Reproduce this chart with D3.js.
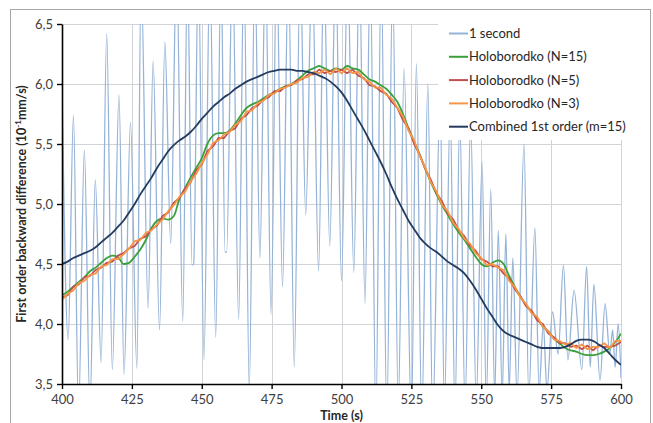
<!DOCTYPE html>
<html>
<head>
<meta charset="utf-8">
<script src="https://cdn.jsdelivr.net/npm/d3@7"></script>
<style>
  html, body { margin: 0; padding: 0; background: #fff; overflow: hidden; }
  svg { display: block; font-family: Lato, "Open Sans", sans-serif; }
</style>
</head>
<body>
<svg id="chart" width="653" height="423"></svg>
<script>
// ---------- DATA ----------
const seriesNames = ["1 second", "Holoborodko (N=15)", "Holoborodko (N=5)", "Holoborodko (N=3)", "Combined 1st order (m=15)"];
const xTicks = [400, 425, 450, 475, 500, 525, 550, 575, 600];
const yTicks = [3.5, 4.0, 4.5, 5.0, 5.5, 6.0, 6.5];
const yTickLabels = ["3,5", "4,0", "4,5", "5,0", "5,5", "6,0", "6,5"];

// 1-second backward difference: turning points (time, value)
const secT = [400, 402.2, 404.1, 405.9, 408.0, 410.0, 411.9, 414.0, 416.0, 418.0, 420.4, 422.2, 424.5, 426.8, 428.3, 430.8,
  432.6, 434.9, 436.8, 438.9, 441.0, 443.2, 444.9, 446.5, 447.1, 448.8, 450.8, 452.9, 455.0, 456.9, 458.3, 458.9, 461.0, 463.2,
  465.1, 467.0, 469.0, 470.8, 472.8, 474.8, 476.8, 478.9, 481.0, 483.1, 485.2, 487.2, 489.5, 491.8, 493.7, 495.8, 497.9, 500.0,
  502.2, 504.4, 506.4, 508.4, 510.3, 512.3, 514.2, 516.2, 518.3, 520.3, 522.4, 525.0, 526.8, 528.7, 530.9, 532.6, 535.3, 536.8,
  538.9, 540.6, 542.3, 544.2, 546.2, 548.2, 550.3, 551.8, 553.4, 554.8, 556.1, 557.5, 558.8, 560.0, 561.3, 562.8, 565.3, 567.0,
  569.2, 570.7, 572.2, 573.5, 575.5, 577.5, 579.4, 581.0, 583.2, 586.0, 587.7, 589.0, 590.3, 592.5, 594.3, 596.0, 597.0, 597.9,
  599.0, 600];
const secV = [6.00, 3.87, 5.74, 3.25, 5.45, 3.30, 5.20, 3.68, 6.42, 3.62, 5.91, 3.58, 5.68, 3.63, 6.90, 4.13,
  6.19, 3.95, 6.35, 4.67, 7.00, 4.02, 7.00, 4.49, 4.50, 7.00, 3.70, 7.00, 3.89, 7.00, 4.60, 4.60, 7.00, 4.04,
  7.00, 3.45, 7.00, 4.55, 7.00, 4.08, 7.00, 4.31, 7.00, 3.64, 7.00, 4.91, 7.00, 4.44, 7.00, 4.65, 7.00, 4.36,
  7.00, 4.43, 7.00, 4.17, 7.00, 3.20, 7.00, 3.20, 6.90, 3.30, 6.13, 3.20, 6.17, 3.20, 6.00, 3.20, 5.90, 3.30,
  5.80, 3.25, 5.75, 3.30, 5.70, 3.35, 5.35, 3.35, 5.12, 3.40, 4.78, 3.40, 4.75, 3.45, 4.55, 3.40, 5.50, 3.40,
  4.80, 3.45, 4.00, 3.45, 4.10, 3.75, 4.49, 3.70, 4.28, 3.62, 4.48, 3.64, 4.33, 3.53, 4.17, 3.75, 3.95, 3.64,
  4.00, 3.55];

// smoothed series sampled every 2 s (400 .. 600)
const times = d3.range(400, 601, 2);
const holo15 = [4.24, 4.27, 4.31, 4.35, 4.39, 4.44, 4.47, 4.51, 4.55, 4.57, 4.56, 4.50, 4.51, 4.56, 4.62, 4.70,
  4.80, 4.86, 4.88, 4.87, 4.90, 5.04, 5.13, 5.22, 5.30, 5.38, 5.50, 5.57, 5.59, 5.59, 5.61, 5.67, 5.74, 5.80,
  5.83, 5.85, 5.88, 5.91, 5.93, 5.96, 5.98, 6.00, 6.03, 6.07, 6.11, 6.13, 6.15, 6.13, 6.11, 6.13, 6.12, 6.15,
  6.13, 6.12, 6.08, 6.04, 6.02, 5.99, 5.96, 5.91, 5.85, 5.75, 5.63, 5.52, 5.41, 5.29, 5.18, 5.08, 4.99, 4.91,
  4.83, 4.76, 4.70, 4.63, 4.56, 4.50, 4.48, 4.51, 4.53, 4.50, 4.40, 4.31, 4.23, 4.16, 4.10, 4.05, 3.98, 3.94,
  3.88, 3.84, 3.80, 3.78, 3.77, 3.75, 3.74, 3.74, 3.75, 3.77, 3.80, 3.85, 3.92];
const holo5 = [4.22, 4.24, 4.31, 4.33, 4.39, 4.40, 4.45, 4.47, 4.51, 4.52,
  4.57, 4.59, 4.63, 4.65, 4.71, 4.73, 4.79, 4.82, 4.90, 4.93,
  5.01, 5.05, 5.13, 5.18, 5.28, 5.33, 5.44, 5.48, 5.55, 5.55,
  5.61, 5.63, 5.71, 5.74, 5.80, 5.82, 5.87, 5.89, 5.94, 5.94,
  5.98, 5.99, 6.03, 6.04, 6.08, 6.08, 6.12, 6.09, 6.11, 6.10,
  6.12, 6.09, 6.12, 6.07, 6.05, 5.99, 5.98, 5.94, 5.92, 5.85,
  5.80, 5.70, 5.63, 5.50, 5.41, 5.29, 5.20, 5.09, 5.02, 4.92,
  4.87, 4.78, 4.73, 4.65, 4.61, 4.54, 4.52, 4.48, 4.48, 4.42,
  4.38, 4.29, 4.23, 4.15, 4.11, 4.03, 4.00, 3.92, 3.89, 3.84,
  3.84, 3.81, 3.82, 3.79, 3.82, 3.78, 3.82, 3.81, 3.81, 3.82,
  3.85];
const holo3 = [4.20, 4.25, 4.28, 4.34, 4.36, 4.41, 4.42, 4.48, 4.49, 4.54,
  4.54, 4.58, 4.63, 4.69, 4.70, 4.76, 4.78, 4.83, 4.87, 4.94,
  4.99, 5.06, 5.10, 5.19, 5.25, 5.34, 5.41, 5.51, 5.53, 5.58,
  5.60, 5.66, 5.69, 5.77, 5.78, 5.84, 5.86, 5.91, 5.92, 5.96,
  5.97, 6.00, 6.01, 6.05, 6.06, 6.10, 6.09, 6.12, 6.08, 6.13,
  6.09, 6.13, 6.09, 6.10, 6.04, 6.02, 5.97, 5.97, 5.91, 5.88,
  5.80, 5.73, 5.61, 5.53, 5.40, 5.30, 5.18, 5.10, 4.99, 4.94,
  4.84, 4.79, 4.71, 4.67, 4.59, 4.55, 4.49, 4.50, 4.47, 4.45,
  4.36, 4.31, 4.22, 4.17, 4.09, 4.06, 3.98, 3.94, 3.87, 3.86,
  3.83, 3.84, 3.80, 3.83, 3.79, 3.81, 3.81, 3.84, 3.80, 3.86,
  3.86];
const combined = [4.50, 4.52, 4.55, 4.57, 4.59, 4.61, 4.64, 4.68, 4.72, 4.76, 4.81, 4.86, 4.93, 5.00, 5.08, 5.15,
  5.22, 5.30, 5.37, 5.44, 5.49, 5.53, 5.56, 5.60, 5.65, 5.71, 5.76, 5.81, 5.85, 5.89, 5.92, 5.96, 5.99, 6.02,
  6.04, 6.06, 6.08, 6.10, 6.11, 6.12, 6.12, 6.12, 6.11, 6.11, 6.10, 6.09, 6.07, 6.05, 6.02, 5.98, 5.93, 5.86,
  5.78, 5.70, 5.62, 5.53, 5.44, 5.35, 5.25, 5.14, 5.04, 4.95, 4.86, 4.79, 4.72, 4.67, 4.63, 4.60, 4.56, 4.52,
  4.49, 4.46, 4.42, 4.36, 4.29, 4.21, 4.13, 4.06, 3.99, 3.94, 3.91, 3.89, 3.87, 3.85, 3.83, 3.81, 3.80, 3.80,
  3.80, 3.80, 3.81, 3.83, 3.86, 3.87, 3.87, 3.86, 3.83, 3.80, 3.75, 3.70, 3.66];

// ---------- STYLE ----------
const colors = ["#95b3d7", "#3aa13a", "#c0504d", "#f79646", "#243b60"];
const widths = [1.3, 1.8, 1.8, 1.8, 1.8];

const svg = d3.select("#chart");
const M = { left: 62, right: 621, top: 24, bottom: 384 };
const x = d3.scaleLinear().domain([400, 600]).range([M.left, M.right]);
const y = d3.scaleLinear().domain([3.5, 6.5]).range([M.bottom, M.top]);

// outer chart border
svg.append("rect").attr("x", 10.5).attr("y", 9.5).attr("width", 640).attr("height", 430)
  .attr("fill", "#fff").attr("stroke", "#a6a6a6").attr("stroke-width", 1);

// gridlines
const grid = svg.append("g").attr("stroke", "#d0d3d8").attr("stroke-width", 1);
yTicks.slice(1).forEach(v => grid.append("line")
  .attr("x1", M.left).attr("x2", M.right).attr("y1", Math.round(y(v)) + 0.5).attr("y2", Math.round(y(v)) + 0.5));
xTicks.slice(1).forEach(v => grid.append("line")
  .attr("x1", Math.round(x(v)) + 0.5).attr("x2", Math.round(x(v)) + 0.5).attr("y1", M.top).attr("y2", M.bottom));

svg.append("clipPath").attr("id", "plotclip").append("rect")
  .attr("x", M.left).attr("y", M.top).attr("width", M.right - M.left).attr("height", M.bottom - M.top);

const plot = svg.append("g").attr("clip-path", "url(#plotclip)");
const smoothLine = d3.line().x(d => x(d[0])).y(d => y(d[1])).curve(d3.curveMonotoneX);
const rawLine = d3.line().x(d => x(d[0])).y(d => y(d[1])).curve(d3.curveLinear);

const seriesData = [
  secT.map((t, i) => [t, secV[i]]),
  times.map((t, i) => [t, holo15[i]]),
  times.map((t, i) => [t, holo5[i]]),
  times.map((t, i) => [t, holo3[i]]),
  times.map((t, i) => [t, combined[i]])
];
const gens = [smoothLine, smoothLine, rawLine, rawLine, smoothLine];
seriesData.forEach((d, i) => {
  plot.append("path").datum(d).attr("d", gens[i])
    .attr("fill", "none").attr("stroke", colors[i]).attr("stroke-width", widths[i])
    .attr("stroke-linejoin", "round");
});

// axes
const yAxis = svg.append("g").attr("transform", `translate(${M.left},0)`)
  .call(d3.axisLeft(y).tickValues(yTicks).tickSize(5).tickSizeOuter(0).tickPadding(4)
    .tickFormat((d, i) => yTickLabels[i]));
const xAxis = svg.append("g").attr("transform", `translate(0,${M.bottom})`)
  .call(d3.axisBottom(x).tickValues(xTicks).tickSize(5).tickSizeOuter(0).tickPadding(6));
[yAxis, xAxis].forEach(a => {
  a.select(".domain").attr("stroke", "#000").attr("stroke-width", 1.6);
  a.selectAll(".tick line").attr("stroke", "#000").attr("stroke-width", 1.4);
  a.selectAll(".tick text").attr("fill", "#404040").attr("font-size", 13)
    .attr("font-family", "Lato, 'Open Sans', sans-serif");
});

// axis titles
const yTitle = svg.append("text")
  .attr("transform", `translate(26,${(M.top + M.bottom) / 2}) rotate(-90)`)
  .attr("text-anchor", "middle").attr("font-size", 12.5).attr("font-weight", "bold").attr("fill", "#262626");
yTitle.append("tspan").text("First order backward difference (10");
yTitle.append("tspan").attr("dy", -5).attr("font-size", 8).text("-1");
yTitle.append("tspan").attr("dy", 5).text("mm/s)");

svg.append("text").attr("x", (M.left + M.right) / 2).attr("y", 420)
  .attr("text-anchor", "middle").attr("font-size", 12.5).attr("font-weight", "bold").attr("fill", "#262626")
  .text("Time (s)");

// legend
const lg = svg.append("g");
lg.append("rect").attr("x", 438).attr("y", 20).attr("width", 205).attr("height", 120).attr("fill", "#fff");
seriesNames.forEach((name, i) => {
  const cy = 33.5 + i * 23.3;
  lg.append("line").attr("x1", 449).attr("x2", 468).attr("y1", cy).attr("y2", cy)
    .attr("stroke", colors[i]).attr("stroke-width", 2);
  lg.append("text").attr("x", 469).attr("y", cy).attr("dy", "0.35em")
    .attr("font-size", 13).attr("fill", "#262626").text(name);
});
</script>
</body>
</html>
